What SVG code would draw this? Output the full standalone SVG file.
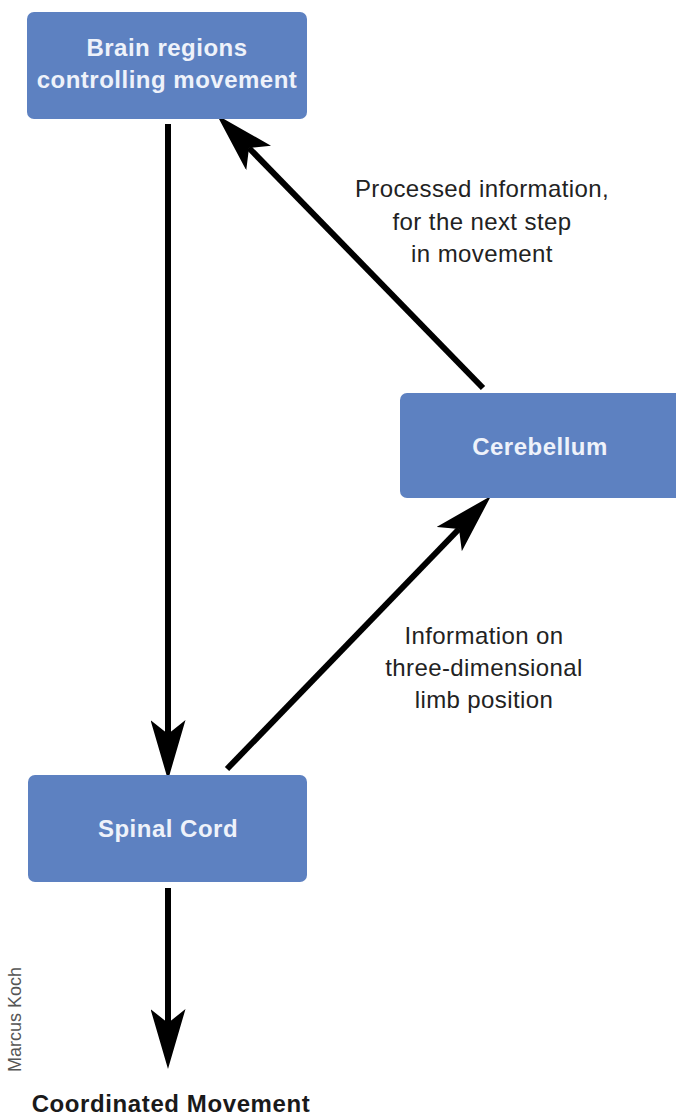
<svg xmlns="http://www.w3.org/2000/svg" width="676" height="1116" viewBox="0 0 676 1116">
  <style>
    .box { fill: #5d81c1; }
    .boxtext { font-family: "Liberation Sans", Arial, sans-serif; font-weight: bold; font-size: 24px; fill: #eef2fa; text-anchor: middle; letter-spacing: 0.5px; }
    .label { font-family: "Liberation Sans", Arial, sans-serif; font-size: 24px; fill: #222222; text-anchor: middle; letter-spacing: 0.4px; }
    .title { font-family: "Liberation Sans", Arial, sans-serif; font-weight: bold; font-size: 24px; fill: #1a1a1a; text-anchor: middle; letter-spacing: 0.6px; }
    .credit { font-family: "Liberation Sans", Arial, sans-serif; font-size: 18px; fill: #555555; }
    .conn { stroke: #000000; stroke-width: 6; fill: none; marker-end: url(#head); }
  </style>
  <defs>
    <marker id="head" viewBox="0 0 60 35" refX="14" refY="17.5" markerWidth="60" markerHeight="35" markerUnits="userSpaceOnUse" orient="auto">
      <path d="M0,0 L60,17.5 L0,35 L14,17.5 Z" fill="#000000"/>
    </marker>
  </defs>
  <rect width="676" height="1116" fill="#ffffff"/>

  <g id="connectors">
    <line class="conn" x1="168" y1="124" x2="168" y2="734"/>
    <line class="conn" x1="483" y1="388" x2="249" y2="148"/>
    <line class="conn" x1="227" y1="769" x2="459" y2="529"/>
    <line class="conn" x1="168" y1="888" x2="168" y2="1023"/>
  </g>

  <g id="brain">
    <rect class="box" x="27" y="12" width="280" height="107" rx="7"/>
    <text class="boxtext" x="167" y="56">Brain regions</text>
    <text class="boxtext" x="167" y="88">controlling movement</text>
  </g>

  <g id="cerebellum">
    <rect class="box" x="400" y="393" width="284" height="105" rx="7"/>
    <text class="boxtext" x="540" y="455">Cerebellum</text>
  </g>

  <g id="spinal">
    <rect class="box" x="28" y="775" width="279" height="107" rx="7"/>
    <text class="boxtext" x="168" y="837">Spinal Cord</text>
  </g>

  <g id="label-processed">
    <text class="label" x="482" y="197">Processed information,</text>
    <text class="label" x="482" y="230">for the next step</text>
    <text class="label" x="482" y="262">in movement</text>
  </g>

  <g id="label-information">
    <text class="label" x="484" y="644">Information on</text>
    <text class="label" x="484" y="676">three-dimensional</text>
    <text class="label" x="484" y="708">limb position</text>
  </g>

  <g id="coordinated">
    <text class="title" x="171" y="1112">Coordinated Movement</text>
  </g>

  <g id="credit">
    <text class="credit" transform="translate(21 1072) rotate(-90)">Marcus Koch</text>
  </g>
</svg>
